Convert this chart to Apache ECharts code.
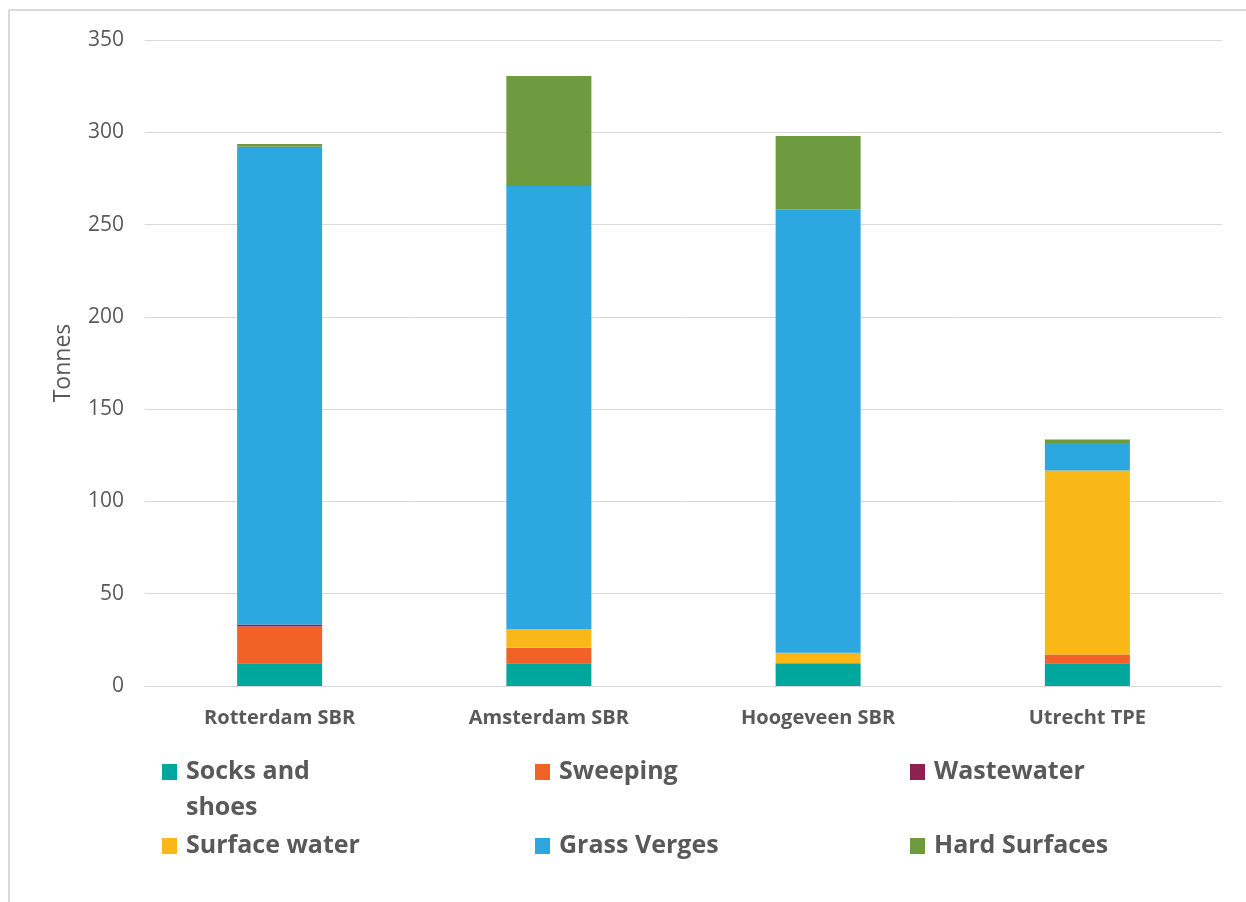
<!DOCTYPE html>
<html>
<head>
<meta charset="utf-8">
<script src="https://cdn.jsdelivr.net/npm/echarts@6/dist/echarts.min.js"></script>
<style>
  html, body { margin: 0; padding: 0; background: #ffffff; }
  #chart { width: 1246px; height: 902px; }
</style>
</head>
<body>
<div id="chart"></div>
<script>
// Sites and tonnes per pathway (stacked)
const categories = ['Rotterdam SBR', 'Amsterdam SBR', 'Hoogeveen SBR', 'Utrecht TPE'];
const socksAndShoes = [12.3, 12.3, 12.3, 12.3];
const sweeping      = [20.0, 8.4, 0, 4.8];
const wastewater    = [1.0, 0, 0, 0];
const surfaceWater  = [0, 10.2, 5.7, 99.7];
const grassVerges   = [258.8, 240.0, 240.0, 14.8];
const hardSurfaces  = [1.5, 59.6, 40.0, 2.0];
const yTicks = [0, 50, 100, 150, 200, 250, 300, 350];

const seriesDefs = [
  { name: 'Socks and shoes', data: socksAndShoes, color: '#00A79D' },
  { name: 'Sweeping',        data: sweeping,      color: '#F26125' },
  { name: 'Wastewater',      data: wastewater,    color: '#8E2150' },
  { name: 'Surface water',   data: surfaceWater,  color: '#F9B817' },
  { name: 'Grass Verges',    data: grassVerges,   color: '#2CA7E0' },
  { name: 'Hard Surfaces',   data: hardSurfaces,  color: '#6E9B3F' }
];

const textGray = '#595959';
const legendFont = {
  fontFamily: 'Open Sans', fontWeight: 'bold', fontSize: 25, color: textGray,
  lineHeight: 30, padding: [0, 0, 0, 4]
};

// Legend slots: three columns, two rows
const legendPos = [
  { left: 162, top: 757 }, { left: 535, top: 757 }, { left: 910, top: 757 },
  { left: 162, top: 831 }, { left: 535, top: 831 }, { left: 910, top: 831 }
];

const legends = seriesDefs.map((s, i) => ({
  left: legendPos[i].left,
  top: legendPos[i].top,
  padding: 0,
  itemWidth: 15,
  itemHeight: 16,
  icon: 'rect',
  selectedMode: false,
  data: [s.name],
  // the first entry wraps onto a second line (drawn below)
  formatter: name => name === 'Socks and shoes' ? 'Socks and' : name,
  textStyle: legendFont
}));

const chart = echarts.init(document.getElementById('chart'), null, { renderer: 'canvas' });
chart.setOption({
  backgroundColor: '#ffffff',
  animation: false,
  grid: { left: 145, right: 24, top: 40, bottom: 216, containLabel: false },
  legend: legends,
  xAxis: {
    type: 'category',
    data: categories,
    axisLine: { lineStyle: { color: '#d9d9d9', width: 1 } },
    axisTick: { show: false },
    axisLabel: {
      margin: 22,
      fontFamily: 'Open Sans', fontWeight: 'bold', fontSize: 20, color: textGray
    }
  },
  yAxis: {
    type: 'value',
    min: yTicks[0],
    max: yTicks[yTicks.length - 1],
    interval: 50,
    name: 'Tonnes',
    nameLocation: 'middle',
    nameGap: 70,
    nameRotate: 90,
    nameTextStyle: { fontFamily: 'Open Sans', fontSize: 23, color: textGray },
    axisLine: { show: false },
    axisTick: { show: false },
    splitLine: { lineStyle: { color: '#d9d9d9', width: 1 } },
    axisLabel: {
      margin: 21,
      fontFamily: 'Open Sans', fontSize: 21, color: textGray
    }
  },
  series: seriesDefs.map(s => ({
    name: s.name,
    type: 'bar',
    stack: 'total',
    barWidth: 85,
    data: s.data,
    itemStyle: { color: s.color },
    emphasis: { disabled: true }
  })),
  graphic: [
    // chart-area frame (top and left edges)
    { type: 'line', shape: { x1: 9, y1: 10, x2: 1246, y2: 10 }, style: { stroke: '#d9d9d9', lineWidth: 2 } },
    { type: 'line', shape: { x1: 9, y1: 10, x2: 9, y2: 902 }, style: { stroke: '#d9d9d9', lineWidth: 2 } },
    // second line of the "Socks and shoes" legend entry
    {
      type: 'text', left: 186, top: 795,
      style: { text: 'shoes', font: 'bold 25px "Open Sans"', fill: textGray }
    }
  ]
});
</script>
</body>
</html>
